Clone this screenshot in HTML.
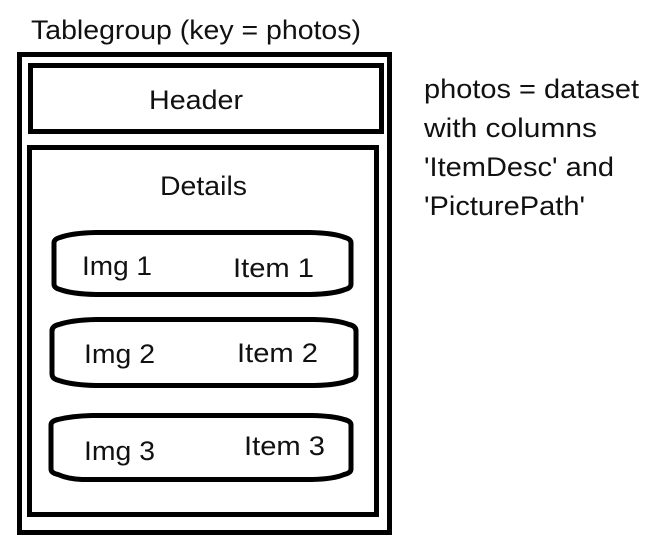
<!DOCTYPE html>
<html>
<head>
<meta charset="utf-8">
<style>
html,body{margin:0;padding:0;background:#fff;width:665px;height:556px;overflow:hidden}
svg{display:block}
text{font-family:"Liberation Sans",sans-serif;font-size:27px;fill:#111}
.b{fill:none;stroke:#000;stroke-width:5}
</style>
</head>
<body>
<svg width="665" height="556" viewBox="0 0 665 556" xmlns="http://www.w3.org/2000/svg">
<rect width="665" height="556" fill="#fff"/>
<rect class="b" x="19.5" y="54.5" width="370" height="478"/>
<rect class="b" x="30.5" y="65.5" width="351" height="66"/>
<rect class="b" x="29.5" y="147.5" width="347" height="367"/>
<path class="b" d="M54 243 Q54 239 60 237.500 Q72 233 96 232.500 H310 Q334 233 345 237.500 Q351 239 351 243 V284 Q351 288 345 289.500 Q334 294 310 294.500 H96 Q72 294 60 289.500 Q54 288 54 284 Z"/>
<path class="b" d="M52 331 Q52 326 59 324.500 Q72 320 96 319.500 H314 Q338 320 349 324.500 Q356 326 356 331 V374 Q356 379 349 380.500 Q338 385 314 385.500 H96 Q72 385 59 380.500 Q52 379 52 374 Z"/>
<path class="b" d="M51 425 Q51 421 58 419.500 Q72 416 92 415.500 H312 Q334 416 344 419.500 Q351 421 351 425 V469 Q351 473 344 474.500 Q334 479 312 479.500 H82 Q68 479 58 474.500 Q51 473 51 469 Z"/>
<text x="31" y="39" textLength="330" lengthAdjust="spacingAndGlyphs">Tablegroup (key = photos)</text>
<text x="149" y="109" textLength="94" lengthAdjust="spacingAndGlyphs">Header</text>
<text x="160" y="195" textLength="87" lengthAdjust="spacingAndGlyphs">Details</text>
<text x="82" y="275" textLength="70" lengthAdjust="spacingAndGlyphs">Img 1</text>
<text x="233" y="277" textLength="81" lengthAdjust="spacingAndGlyphs">Item 1</text>
<text x="84" y="363" textLength="71" lengthAdjust="spacingAndGlyphs">Img 2</text>
<text x="237" y="362" textLength="81" lengthAdjust="spacingAndGlyphs">Item 2</text>
<text x="84" y="460" textLength="71" lengthAdjust="spacingAndGlyphs">Img 3</text>
<text x="244" y="455" textLength="81" lengthAdjust="spacingAndGlyphs">Item 3</text>
<text x="424" y="98" textLength="215" lengthAdjust="spacingAndGlyphs">photos = dataset</text>
<text x="424" y="137" textLength="173" lengthAdjust="spacingAndGlyphs">with columns</text>
<text x="424" y="176" textLength="190" lengthAdjust="spacingAndGlyphs">'ItemDesc' and</text>
<text x="424" y="215" textLength="161" lengthAdjust="spacingAndGlyphs">'PicturePath'</text>
</svg>
</body>
</html>
